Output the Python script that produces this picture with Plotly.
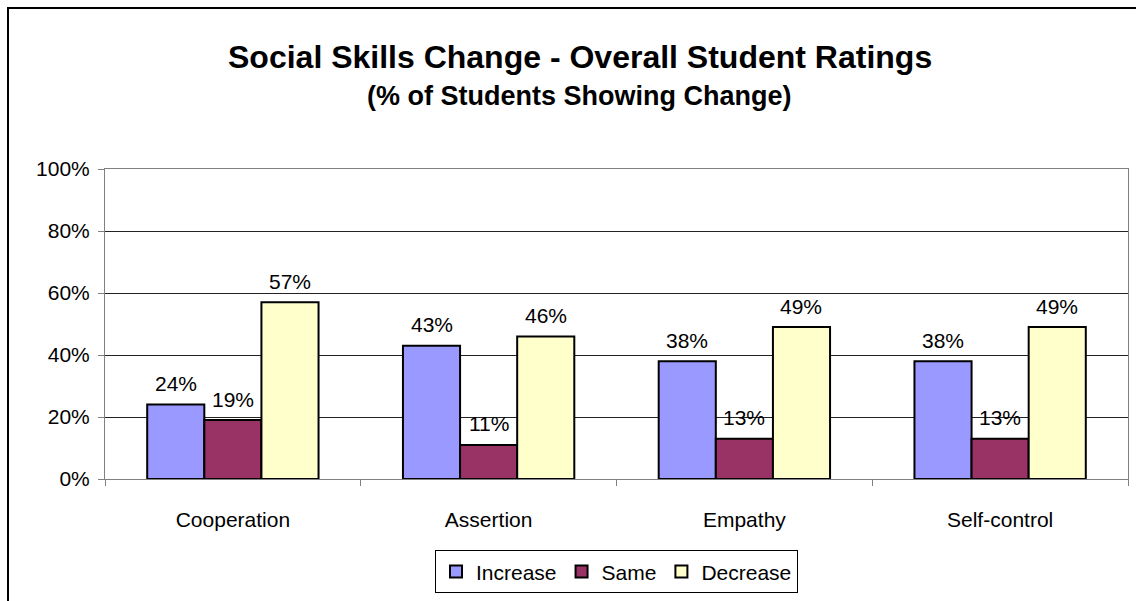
import plotly.graph_objects as go

categories = ["Cooperation", "Assertion", "Empathy", "Self-control"]
increase = [24, 43, 38, 38]
same = [19, 11, 13, 13]
decrease = [57, 46, 49, 49]
y_ticks = [0, 20, 40, 60, 80, 100]

series = [
    ("Increase", increase, "#9999FF"),
    ("Same", same, "#993366"),
    ("Decrease", decrease, "#FFFFCC"),
]

FONT = "Liberation Sans, Arial, sans-serif"

W, H = 1136, 601
ml, mr, mt, mb = 105, 8, 169, 118
pw, ph = W - ml - mr, H - mt - mb
BARGAP = 0.33

def px_x(X):
    return (X - ml) / pw

def px_y(Y):
    return (H - mb - Y) / ph

fig = go.Figure()
for name, vals, color in series:
    fig.add_trace(go.Bar(
        name=name,
        x=categories,
        y=vals,
        marker=dict(color=color, line=dict(color="#000000", width=2)),
    ))

# value labels above each bar, shifted to the bar's slot within its group
bar_px = pw / len(categories) * (1 - BARGAP) / len(series)
annotations = []
for i, (name, vals, color) in enumerate(series):
    shift = (i - (len(series) - 1) / 2) * bar_px
    for cat, v in zip(categories, vals):
        annotations.append(dict(
            x=cat, y=v, xref="x", yref="y", text=f"{v}%",
            xshift=shift, yshift=21, showarrow=False,
            xanchor="center", yanchor="middle",
            font=dict(family=FONT, size=21, color="#000000"),
        ))

annotations += [
    dict(text="<b>Social Skills Change - Overall Student Ratings</b>",
         xref="paper", yref="paper", x=px_x(580), y=px_y(56),
         xanchor="center", yanchor="middle", showarrow=False,
         font=dict(family=FONT, size=32, color="#000000")),
    dict(text="<b>(% of Students Showing Change)</b>",
         xref="paper", yref="paper", x=px_x(579), y=px_y(95),
         xanchor="center", yanchor="middle", showarrow=False,
         font=dict(family=FONT, size=27, color="#000000")),
]

fig.update_layout(
    width=W, height=H,
    margin=dict(l=ml, r=mr, t=mt, b=mb, pad=0),
    paper_bgcolor="#FFFFFF",
    plot_bgcolor="#FFFFFF",
    barmode="group",
    bargap=BARGAP,
    bargroupgap=0,
    font=dict(family=FONT, size=21, color="#000000"),
    showlegend=True,
    legend=dict(
        orientation="h",
        x=0.5, xanchor="center",
        y=px_y(577), yanchor="middle",
        bordercolor="#000000", borderwidth=1,
        font=dict(family=FONT, size=21, color="#000000"),
        itemwidth=30,
        tracegroupgap=0,
    ),
    xaxis=dict(
        type="category",
        showgrid=False,
        showline=True, linecolor="#808080", linewidth=1, mirror=True,
        ticks="outside", tickson="boundaries", ticklen=6, tickcolor="#808080",
        tickfont=dict(family=FONT, size=21, color="#000000"),
        ticklabelstandoff=22,
    ),
    yaxis=dict(
        range=[0, 100],
        tickvals=y_ticks,
        ticktext=[f"{v}%" for v in y_ticks],
        showgrid=True, gridcolor="#222222", gridwidth=1,
        showline=True, linecolor="#808080", linewidth=1, mirror=True,
        ticks="outside", ticklen=6, tickcolor="#808080",
        tickfont=dict(family=FONT, size=21, color="#000000"),
        ticklabelstandoff=4,
        zeroline=False,
    ),
    annotations=annotations,
    shapes=[
        dict(type="rect", xref="paper", yref="paper",
             x0=px_x(8), x1=px_x(1145), y0=px_y(640), y1=px_y(6),
             line=dict(color="#000000", width=2), fillcolor="rgba(0,0,0,0)",
             layer="below"),
    ],
)

fig.write_html("out.html")
